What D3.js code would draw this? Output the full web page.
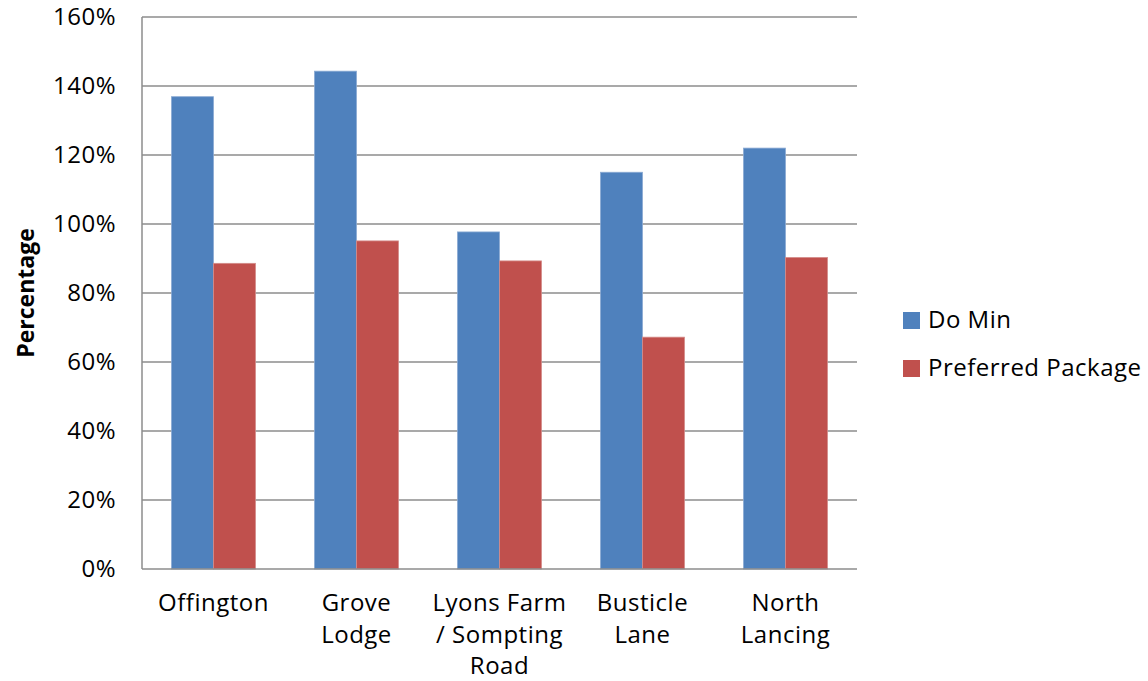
<!DOCTYPE html>
<html>
<head>
<meta charset="utf-8">
<script src="https://cdn.jsdelivr.net/npm/d3@7"></script>
<style>
  html, body { margin: 0; padding: 0; background: #fff; }
  svg { display: block; font-family: "Open Sans", "Noto Sans", sans-serif; }
</style>
</head>
<body>
<svg id="chart" width="1148" height="681"></svg>
<script>
// Junction capacity by site, scheme comparison
const categories = [
  ["Offington"],
  ["Grove", "Lodge"],
  ["Lyons Farm", "/ Sompting", "Road"],
  ["Busticle", "Lane"],
  ["North", "Lancing"]
];
const seriesNames = ["Do Min", "Preferred Package"];
const doMin = [1.369, 1.443, 0.977, 1.150, 1.220];
const preferredPackage = [0.886, 0.951, 0.893, 0.672, 0.903];
const yTicks = [0, 0.2, 0.4, 0.6, 0.8, 1.0, 1.2, 1.4, 1.6];
const colors = ["#4F81BD", "#C0504D"];

const svg = d3.select("#chart");
const plot = { left: 142, right: 857, top: 17, bottom: 569 };
const fontSize = 24;
const spacing = "0.5px";

const catKeys = categories.map((c, i) => i);
const x = d3.scaleBand().domain(catKeys).range([plot.left, plot.right]).paddingInner(0).paddingOuter(0);
const y = d3.scaleLinear().domain([0, 1.6]).range([plot.bottom, plot.top]);
const barW = 42;
const x1 = d3.scaleBand().domain([0, 1]).range([0, barW * 2]);

// gridlines
svg.append("g")
  .selectAll("line")
  .data(yTicks.filter(d => d > 0))
  .join("line")
  .attr("x1", plot.left).attr("x2", plot.right)
  .attr("y1", d => y(d)).attr("y2", d => y(d))
  .attr("stroke", "#8c8c8c").attr("stroke-width", 1.5);

// y axis labels
const yAxis = d3.axisLeft(y).tickValues(yTicks).tickFormat(d3.format(".0%")).tickSize(0).tickPadding(26);
const gy = svg.append("g").attr("transform", `translate(${plot.left},0)`).call(yAxis);
gy.select(".domain").remove();
gy.selectAll("text").attr("font-size", fontSize).attr("fill", "#000")
  .attr("font-family", "Open Sans, sans-serif").attr("letter-spacing", spacing);

// bars
const series = [doMin, preferredPackage];
const barGroups = svg.append("g");
series.forEach((vals, s) => {
  barGroups.append("g")
    .selectAll("rect")
    .data(vals)
    .join("rect")
    .attr("x", (d, i) => x(i) + (x.bandwidth() - barW * 2) / 2 + x1(s))
    .attr("y", d => y(d))
    .attr("width", x1.bandwidth())
    .attr("height", d => y(0) - y(d))
    .attr("fill", colors[s])
    .attr("stroke", s === 0 ? "#8aaad3" : "#d48c8a")
    .attr("stroke-width", 0.8);
});

// axes lines
svg.append("line")
  .attr("x1", plot.left).attr("x2", plot.left)
  .attr("y1", plot.top).attr("y2", plot.bottom)
  .attr("stroke", "#8c8c8c").attr("stroke-width", 1.5);
svg.append("line")
  .attr("x1", plot.left).attr("x2", plot.right)
  .attr("y1", plot.bottom).attr("y2", plot.bottom)
  .attr("stroke", "#8c8c8c").attr("stroke-width", 1.5);

// category labels
const catG = svg.append("g");
categories.forEach((lines, i) => {
  const cx = x(i) + x.bandwidth() / 2;
  const t = catG.append("text")
    .attr("x", cx)
    .attr("y", 611)
    .attr("text-anchor", "middle")
    .attr("font-size", fontSize)
    .attr("letter-spacing", spacing)
    .attr("fill", "#000");
  lines.forEach((ln, j) => {
    t.append("tspan").attr("x", cx).attr("y", 611 + j * 31.5).text(ln);
  });
});

// y-axis title
svg.append("text")
  .attr("transform", `translate(34,${(plot.top + plot.bottom) / 2}) rotate(-90)`)
  .attr("text-anchor", "middle")
  .attr("font-size", 23)
  .attr("font-weight", "bold")
  .attr("fill", "#000")
  .text("Percentage");

// legend
const legend = svg.append("g");
seriesNames.forEach((name, s) => {
  const yy = 312 + s * 48;
  legend.append("rect").attr("x", 903).attr("y", yy).attr("width", 17).attr("height", 17).attr("fill", colors[s]);
  legend.append("text").attr("x", 928).attr("y", yy + 16).attr("font-size", fontSize)
    .attr("letter-spacing", spacing).attr("fill", "#000").text(name);
});
</script>
</body>
</html>
